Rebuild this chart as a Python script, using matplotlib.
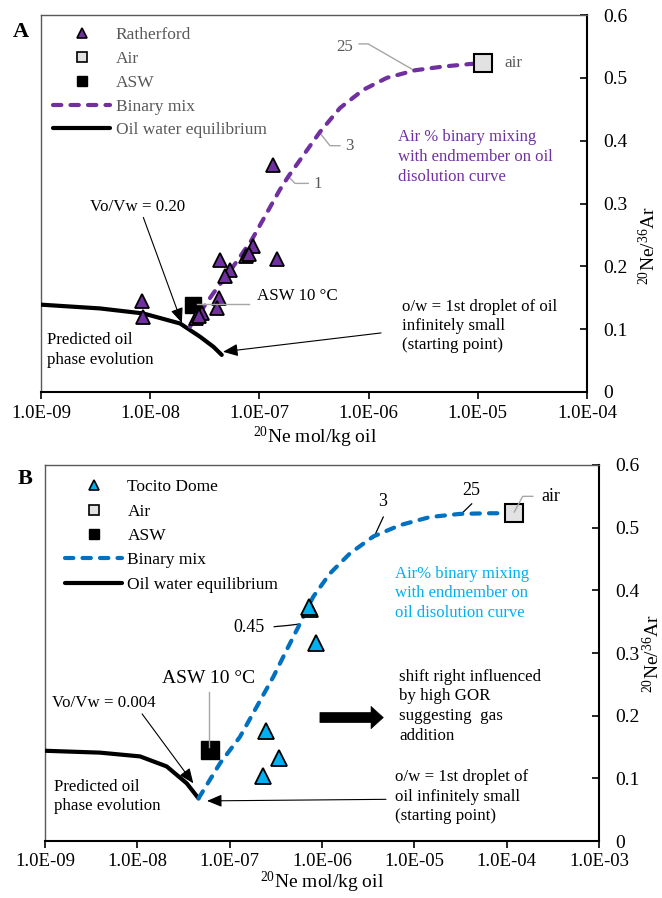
import matplotlib
matplotlib.use('Agg')
import matplotlib.pyplot as plt
from matplotlib.lines import Line2D
from matplotlib.ticker import FixedLocator, FuncFormatter, NullLocator

plt.rcParams['font.family'] = ['Liberation Serif', 'DejaVu Serif']
plt.rcParams['mathtext.fontset'] = 'custom'
plt.rcParams['mathtext.rm'] = 'Liberation Serif'
plt.rcParams['mathtext.it'] = 'Liberation Serif:italic'
plt.rcParams['mathtext.bf'] = 'Liberation Serif:bold'

# ---------------- data: panel A (Ratherford) ----------------
ratherford_ne = [1.32e-7, 8.5e-9, 8.6e-9, 4.36e-8, 5.4e-8, 4.85e-8, 8.7e-8, 7.6e-8,
                 8.1e-8, 1.46e-7, 4.28e-8, 4.1e-8, 2.97e-8, 2.62e-8, 2.8e-8]
ratherford_ratio = [0.362, 0.145, 0.120, 0.210, 0.194, 0.184, 0.232, 0.217,
                    0.219, 0.211, 0.149, 0.133, 0.125, 0.117, 0.121]
air_a_ne = [1.11e-5]
air_a_ratio = [0.523]
asw_a_ne = [2.45e-8]
asw_a_ratio = [0.139]
mix_a_ne = [2.31e-8, 3.78e-8, 5.77e-8, 8.5e-8, 1.17e-7, 1.54e-7, 1.84e-7, 2.35e-7,
            3.59e-7, 5.47e-7, 8.95e-7, 1.47e-6, 2.66e-6, 4.83e-6, 8.5e-6, 1.11e-5]
mix_a_ratio = [0.104, 0.157, 0.200, 0.242, 0.285, 0.322, 0.343, 0.369,
               0.414, 0.452, 0.481, 0.500, 0.512, 0.518, 0.522, 0.523]
oil_a_ne = [1e-9, 3.47e-9, 8.65e-9, 1.88e-8, 2.86e-8, 3.79e-8, 4.52e-8]
oil_a_ratio = [0.139, 0.133, 0.125, 0.109, 0.088, 0.072, 0.059]

# ---------------- data: panel B (Tocito Dome) ----------------
tocito_ne = [7.4e-7, 7.2e-7, 8.6e-7, 2.48e-7, 3.40e-7, 2.28e-7]
tocito_ratio = [0.371, 0.374, 0.316, 0.176, 0.132, 0.104]
air_b_ne = [1.2e-4]
air_b_ratio = [0.523]
asw_b_ne = [6.1e-8]
asw_b_ratio = [0.146]
mix_b_ne = [4.6e-8, 7.86e-8, 1.29e-7, 1.96e-7, 2.97e-7, 4.15e-7, 5.78e-7, 8.05e-7,
            1.22e-6, 2.01e-6, 3.6e-6, 7.0e-6, 1.48e-5, 3.13e-5, 6.6e-5, 1.2e-4]
mix_b_ratio = [0.068, 0.124, 0.166, 0.214, 0.262, 0.305, 0.347, 0.390,
               0.427, 0.459, 0.486, 0.504, 0.517, 0.522, 0.523, 0.523]
oil_b_ne = [1e-9, 3.94e-9, 1.07e-8, 2.08e-8, 3.43e-8, 4.6e-8]
oil_b_ratio = [0.144, 0.141, 0.135, 0.119, 0.092, 0.068]

x_ticks_a = [1e-9, 1e-8, 1e-7, 1e-6, 1e-5, 1e-4]
x_ticks_b = [1e-9, 1e-8, 1e-7, 1e-6, 1e-5, 1e-4, 1e-3]
y_ticks = [0, 0.1, 0.2, 0.3, 0.4, 0.5, 0.6]

legend_a = ['Ratherford', 'Air', 'ASW', 'Binary mix', 'Oil water equilibrium']
legend_b = ['Tocito Dome', 'Air', 'ASW', 'Binary mix', 'Oil water equilibrium']

PURPLE = '#7030A0'
DBLUE = '#0070C0'
LBLUE = '#00B0F0'
GREY_T = '#595959'
GREY_L = '#A6A6A6'
AIRFILL = '#E2E2E2'

fig = plt.figure(figsize=(6.62, 8.98), dpi=100)
W, H = 662.0, 898.0


def add_axes(l, t, r, b):
    return fig.add_axes([l / W, 1 - b / H, (r - l) / W, (b - t) / H])


axA = add_axes(41, 15, 587, 392)
axB = add_axes(45, 465, 599, 841)


def style(ax, xticks):
    ax.set_xscale('log')
    ax.set_xlim(xticks[0], xticks[-1])
    ax.set_ylim(y_ticks[0], y_ticks[-1])
    ax.xaxis.set_major_locator(FixedLocator(xticks))
    ax.xaxis.set_minor_locator(NullLocator())
    ax.xaxis.set_major_formatter(FuncFormatter(lambda v, p: f'{v:.1E}'))
    ax.yaxis.set_major_locator(FixedLocator(y_ticks))
    ax.yaxis.set_major_formatter(FuncFormatter(lambda v, p: '0' if abs(v) < 1e-9 else f'{v:.1f}'))
    ax.yaxis.tick_right()
    ax.tick_params(axis='x', direction='out', length=5, width=1.2, labelsize=13.5, pad=4, colors='black')
    ax.tick_params(axis='y', direction='in', length=5, width=1.2, labelsize=14, pad=12, colors='black')
    for s in ['left', 'top']:
        ax.spines[s].set_color(GREY_T)
        ax.spines[s].set_linewidth(1.0)
    for s in ['right', 'bottom']:
        ax.spines[s].set_color('black')
        ax.spines[s].set_linewidth(1.5)


style(axA, x_ticks_a)
style(axB, x_ticks_b)


def axis_labels(ax, l, t, r, b, xl_center, xl_y, yl_x, yl_y):
    w, h = r - l, b - t
    ax.text((xl_center - l) / w, (b - xl_y) / h, r'$^{20}$Ne mol/kg oil', transform=ax.transAxes,
            ha='center', va='center', fontsize=14)
    ax.text((yl_x - l) / w, (b - yl_y) / h, r'$^{20}$Ne/$^{36}$Ar', transform=ax.transAxes,
            ha='center', va='center', fontsize=14, rotation=90)


axis_labels(axA, 41, 15, 587, 392, 315, 437, 648, 245)
axis_labels(axB, 45, 465, 599, 841, 322, 882, 652, 653)

dash_kw = dict(dashes=(2.0, 2.2), dash_capstyle='round', lw=3.0)
arrow_kw = dict(arrowstyle='-|>,head_length=0.6,head_width=0.25', color='black', lw=0.8,
                mutation_scale=15, shrinkA=0, shrinkB=0)

# ---------------- panel A drawing ----------------
axA.plot(oil_a_ne, oil_a_ratio, color='black', lw=3.0, solid_capstyle='round', zorder=3)
axA.plot(mix_a_ne, mix_a_ratio, color=PURPLE, zorder=3, **dash_kw)
axA.plot(asw_a_ne, asw_a_ratio, ls='none', marker='s', ms=12, mfc='black', mec='black', zorder=4)
axA.plot(air_a_ne, air_a_ratio, ls='none', marker='s', ms=12.5, mfc=AIRFILL, mec='black', mew=1.5, zorder=4)
axA.plot(ratherford_ne, ratherford_ratio, ls='none', marker='^', ms=10, mfc=PURPLE, mec='black', mew=1.3, zorder=5)

hA = [Line2D([], [], ls='none', marker='^', ms=7, mfc=PURPLE, mec='black', mew=1.2),
      Line2D([], [], ls='none', marker='s', ms=7, mfc=AIRFILL, mec='black', mew=1.2),
      Line2D([], [], ls='none', marker='s', ms=7, mfc='black', mec='black'),
      Line2D([], [], color=PURPLE, **dash_kw),
      Line2D([], [], color='black', lw=3.0, solid_capstyle='round')]
legA = axA.legend(hA, legend_a, loc='upper left', bbox_to_anchor=(0.022, 0.968), frameon=False,
                  fontsize=12.5, handlelength=3.3, handletextpad=0.3, labelspacing=0.44,
                  borderpad=0, borderaxespad=0)
for t in legA.get_texts():
    t.set_color(GREY_T)

tk = dict(fontsize=12.2)
axA.text(7.2e-7, 0.549, '25', ha='right', va='center', color=GREY_T, **tk)
axA.plot([8.2e-7, 9.9e-7, 2.66e-6], [0.554, 0.554, 0.511], color=GREY_L, lw=1.0, zorder=2)
axA.text(6.08e-7, 0.392, '3', ha='left', va='center', color=GREY_T, **tk)
axA.plot([3.59e-7, 4.43e-7, 5.47e-7], [0.412, 0.392, 0.392], color=GREY_L, lw=1.0, zorder=2)
axA.text(3.16e-7, 0.331, '1', ha='left', va='center', color=GREY_T, **tk)
axA.plot([1.84e-7, 2.12e-7, 2.8e-7], [0.343, 0.332, 0.332], color=GREY_L, lw=1.0, zorder=2)
axA.text(1.74e-5, 0.523, 'air', ha='left', va='center', color=GREY_T, **tk)
axA.text(1.85e-6, 0.374, 'Air % binary mixing\nwith endmember on oil\ndisolution curve',
         ha='left', va='center', color=PURPLE, fontsize=12, linespacing=1.3)
axA.annotate('Vo/Vw = 0.20', xy=(1.95e-8, 0.110), xytext=(2.81e-9, 0.295), ha='left', va='center',
             arrowprops=dict(relpos=(0.55, 0.0), **arrow_kw), **tk)
axA.text(9.5e-8, 0.153, 'ASW 10 °C', ha='left', va='center', **tk)
axA.plot([2.68e-8, 8.03e-8], [0.140, 0.140], color=GREY_L, lw=1.0, zorder=6)
axA.text(1.13e-9, 0.067, 'Predicted oil\nphase evolution', ha='left', va='center', linespacing=1.3, **tk)
axA.text(2.02e-6, 0.105, 'o/w = 1st droplet of oil\ninfinitely small\n(starting point)',
         ha='left', va='center', linespacing=1.28, **tk)
axA.annotate('', xy=(4.64e-8, 0.064), xytext=(1.3e-6, 0.094), arrowprops=arrow_kw)

# ---------------- panel B drawing ----------------
axB.plot(oil_b_ne, oil_b_ratio, color='black', lw=3.0, solid_capstyle='round', zorder=3)
axB.plot(mix_b_ne, mix_b_ratio, color=DBLUE, zorder=3, **dash_kw)
axB.plot(asw_b_ne, asw_b_ratio, ls='none', marker='s', ms=13.5, mfc='black', mec='black', zorder=4)
axB.plot(air_b_ne, air_b_ratio, ls='none', marker='s', ms=12.7, mfc=AIRFILL, mec='black', mew=1.5, zorder=4)
axB.plot(tocito_ne, tocito_ratio, ls='none', marker='^', ms=11, mfc=LBLUE, mec='black', mew=1.3, zorder=5)

hB = [Line2D([], [], ls='none', marker='^', ms=7, mfc=LBLUE, mec='black', mew=1.2),
      Line2D([], [], ls='none', marker='s', ms=7, mfc=AIRFILL, mec='black', mew=1.2),
      Line2D([], [], ls='none', marker='s', ms=7, mfc='black', mec='black'),
      Line2D([], [], color=DBLUE, **dash_kw),
      Line2D([], [], color='black', lw=3.0, solid_capstyle='round')]
legB = axB.legend(hB, legend_b, loc='upper left', bbox_to_anchor=(0.036, 0.962), frameon=False,
                  fontsize=12.5, handlelength=3.3, handletextpad=0.3, labelspacing=0.47,
                  borderpad=0, borderaxespad=0)

axB.text(2.41e-7, 0.340, '0.45', ha='right', va='center', fontsize=13)
axB.plot([3.04e-7, 4.3e-7, 5.54e-7], [0.342, 0.344, 0.346], color='black', lw=0.9, zorder=2)
axB.text(4.52e-6, 0.541, '3', ha='center', va='center', fontsize=13)
axB.plot([3.6e-6, 4.61e-6], [0.483, 0.517], color='black', lw=0.9, zorder=2)
axB.text(4.18e-5, 0.560, '25', ha='center', va='center', fontsize=13)
axB.plot([3.13e-5, 4.18e-5], [0.520, 0.538], color='black', lw=0.9, zorder=2)
axB.text(2.36e-4, 0.549, 'air', ha='left', va='center', fontsize=13)
axB.plot([1.21e-4, 1.49e-4, 1.92e-4], [0.525, 0.550, 0.550], color=GREY_L, lw=1.0, zorder=6)
axB.text(6.22e-6, 0.395, 'Air% binary mixing\nwith endmember on\noil disolution curve',
         ha='left', va='center', color=LBLUE, fontsize=12, linespacing=1.3)
axB.text(6.87e-6, 0.215, 'shift right influenced\nby high GOR\nsuggesting  gas\naddition',
         ha='left', va='center', linespacing=1.32, **tk)
axB.annotate('', xy=(4.61e-6, 0.197), xytext=(9.5e-7, 0.197),
             arrowprops=dict(arrowstyle='simple,head_length=0.55,head_width=1.0,tail_width=0.45',
                             fc='black', ec='black', lw=0.5, mutation_scale=16, shrinkA=0, shrinkB=0))
axB.text(6.14e-6, 0.071, 'o/w = 1st droplet of\noil infinitely small\n(starting point)',
         ha='left', va='center', linespacing=1.3, **tk)
axB.annotate('', xy=(5.68e-8, 0.064), xytext=(4.93e-6, 0.0665), arrowprops=arrow_kw)
axB.annotate('Vo/Vw = 0.004', xy=(4.04e-8, 0.092), xytext=(1.19e-9, 0.220), ha='left', va='center',
             arrowprops=dict(relpos=(0.85, 0.0), **arrow_kw), **tk)
axB.text(5.97e-8, 0.260, 'ASW 10 °C', ha='center', va='center', fontsize=14)
axB.plot([5.97e-8, 5.97e-8], [0.238, 0.150], color=GREY_L, lw=1.0, zorder=6)
axB.text(1.26e-9, 0.071, 'Predicted oil\nphase evolution', ha='left', va='center', linespacing=1.3, **tk)

fig.text(21 / W, 1 - 32 / H, 'A', fontsize=16, fontweight='bold', ha='center', va='center')
fig.text(25 / W, 1 - 479 / H, 'B', fontsize=16, fontweight='bold', ha='center', va='center')

fig.savefig('out.png', dpi=100)
